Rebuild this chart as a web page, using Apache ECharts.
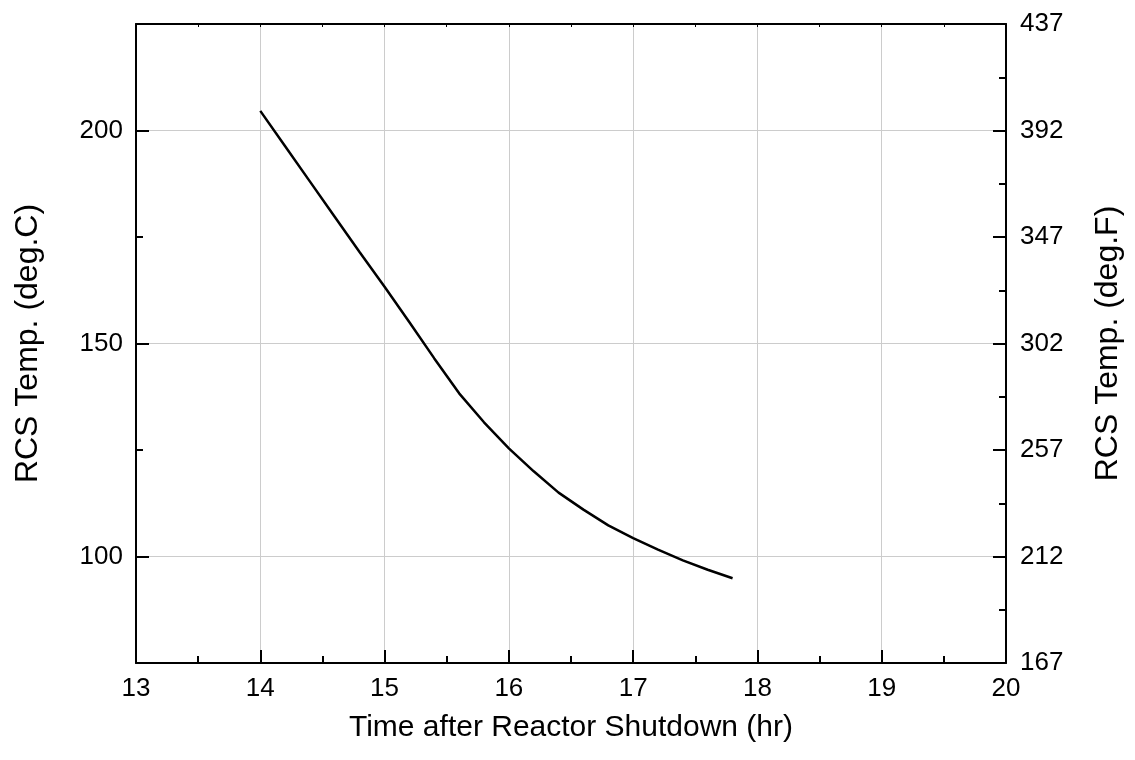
<!DOCTYPE html>
<html>
<head>
<meta charset="utf-8">
<script src="https://cdn.jsdelivr.net/npm/echarts@6/dist/echarts.min.js"></script>
<style>
  html, body { margin: 0; padding: 0; background: #fff; }
  #main { width: 1135px; height: 760px; }
</style>
</head>
<body>
<div id="main"></div>
<script>
const hours = [14.0, 14.2, 14.4, 14.6, 14.8, 15.0, 15.2, 15.4, 15.6, 15.8,
               16.0, 16.2, 16.4, 16.6, 16.8, 17.0, 17.2, 17.4, 17.6, 17.8];
const tempC = [204.6, 196.3, 188.0, 179.7, 171.4, 163.3, 155.0, 146.5, 138.3, 131.5,
               125.4, 120.0, 115.0, 111.0, 107.3, 104.3, 101.6, 99.1, 96.9, 94.9];
const leftTicks = [100, 150, 200];
const leftMinor = [125, 175];

const font = 'Liberation Sans, Arial, sans-serif';
const chart = echarts.init(document.getElementById('main'));

const axisLine = { show: true, onZero: false, lineStyle: { color: '#000', width: 2 } };
const gridLine = { show: true, lineStyle: { color: '#cccccc', width: 1 } };

option = {
    animation: false,
    grid: { left: 136, right: 129, top: 24, bottom: 97 },
    xAxis: [
        {
            type: 'value',
            position: 'bottom',
            min: 13,
            max: 20,
            interval: 1,
            name: 'Time after Reactor Shutdown (hr)',
            nameLocation: 'middle',
            nameGap: 50,
            nameTextStyle: { color: '#000', fontSize: 30, fontFamily: font },
            axisLine: axisLine,
            axisTick: { inside: true, length: 13, lineStyle: { color: '#000', width: 2 } },
            minorTick: { show: true, splitNumber: 2, length: 7, lineStyle: { color: '#000', width: 2 } },
            axisLabel: { color: '#000', fontSize: 26, fontFamily: font, margin: 13 },
            splitLine: gridLine
        },
        {
            type: 'value',
            position: 'top',
            min: 13,
            max: 20,
            interval: 0.5,
            axisLine: axisLine,
            axisTick: { inside: true, length: 3, lineStyle: { color: '#000', width: 1 } },
            axisLabel: { show: false },
            splitLine: { show: false }
        }
    ],
    yAxis: [
        {
            type: 'value',
            position: 'left',
            min: 75,
            max: 225,
            name: 'RCS Temp. (deg.C)',
            nameLocation: 'middle',
            nameGap: 92,
            nameTextStyle: { color: '#000', fontSize: 32, fontFamily: font },
            axisLine: axisLine,
            axisTick: { inside: true, length: 13, customValues: leftTicks, lineStyle: { color: '#000', width: 2 } },
            axisLabel: { color: '#000', fontSize: 26, fontFamily: font, margin: 13, customValues: leftTicks },
            splitLine: gridLine
        },
        {
            type: 'value',
            position: 'right',
            min: 167,
            max: 437,
            interval: 45,
            name: 'RCS Temp. (deg.F)',
            nameLocation: 'middle',
            nameGap: 86,
            nameTextStyle: { color: '#000', fontSize: 32, fontFamily: font },
            axisLine: axisLine,
            axisTick: { inside: true, length: 13, lineStyle: { color: '#000', width: 2 } },
            minorTick: { show: true, splitNumber: 2, length: 7, lineStyle: { color: '#000', width: 2 } },
            axisLabel: { color: '#000', fontSize: 26, fontFamily: font, margin: 14 },
            splitLine: { show: false }
        },
        {
            type: 'value',
            position: 'left',
            min: 75,
            max: 225,
            axisLine: { show: false },
            axisTick: { show: true, inside: true, length: 7, customValues: leftMinor, lineStyle: { color: '#000', width: 2 } },
            axisLabel: { show: false },
            splitLine: { show: false }
        }
    ],
    series: [
        {
            type: 'line',
            xAxisIndex: 0,
            yAxisIndex: 0,
            data: hours.map((h, i) => [h, tempC[i]]),
            showSymbol: false,
            smooth: false,
            lineStyle: { color: '#000', width: 2.5 }
        }
    ]
};

chart.setOption(option);
</script>
</body>
</html>
